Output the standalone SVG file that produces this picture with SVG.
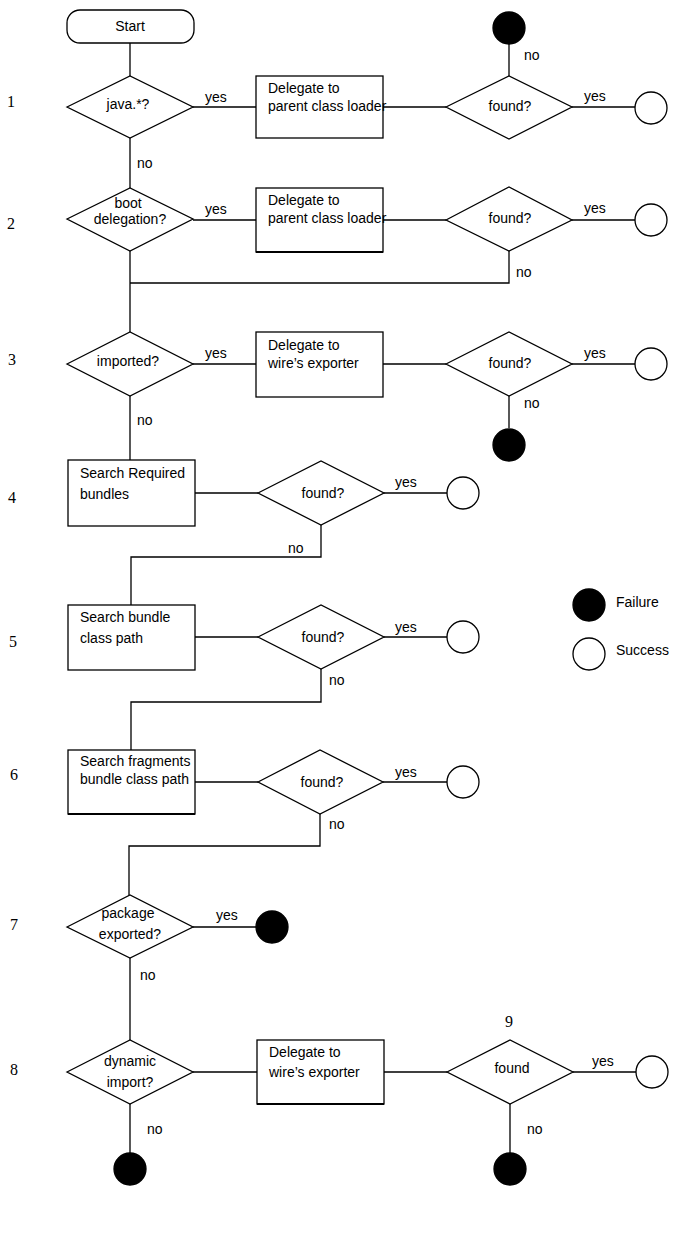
<svg xmlns="http://www.w3.org/2000/svg" width="695" height="1260" viewBox="0 0 695 1260">
<style>
.s{fill:#fff;stroke:#000;stroke-width:1.3}
.f{fill:#000;stroke:#000;stroke-width:1.3}
.c{fill:none;stroke:#000;stroke-width:1.3}
text{font-family:"Liberation Sans",Arial,sans-serif;font-size:14px;fill:#000}
.m{text-anchor:middle}
.n{font-family:"Liberation Serif","Times New Roman",serif;font-size:16px}
.t{stroke:#000;stroke-width:2.2}
</style>
<rect width="695" height="1260" fill="#fff"/>
<g id="connectors">
<path class="c" d="M130,43V76 M193,107H256 M383,107H446 M509,76V44 M572,107H635 M130,138V188"/>
<path class="c" d="M193,220H256 M383,220H446 M572,220H635 M509,251V283H130 M130,251V332"/>
<path class="c" d="M193,364H256 M383,364H446 M572,364H635 M509,396V428 M130,396V460"/>
<path class="c" d="M195,493H258 M384,493H447 M321,525V557H131V605"/>
<path class="c" d="M195,637H258 M384,637H447 M321,669V702H131V750"/>
<path class="c" d="M195,782H258 M383,782H447 M320,814V846H129V895"/>
<path class="c" d="M193,927H256 M130,958V1040"/>
<path class="c" d="M193,1072H257 M384,1072H447 M573,1072H636 M510,1104V1153 M130,1104V1153"/>
</g>
<g id="labels">
<text class="n" x="7" y="107">1</text>
<text class="n" x="7" y="229">2</text>
<text class="n" x="8" y="365">3</text>
<text class="n" x="8" y="503">4</text>
<text class="n" x="9" y="647">5</text>
<text class="n" x="10" y="780">6</text>
<text class="n" x="10" y="930">7</text>
<text class="n" x="10" y="1075">8</text>
<text class="n" x="505" y="1027">9</text>
<text x="205" y="102" font-size="13">yes</text>
<text x="584" y="101" font-size="13">yes</text>
<text x="524" y="60">no</text>
<text x="137" y="168">no</text>
<text x="205" y="214" font-size="13">yes</text>
<text x="584" y="213" font-size="13">yes</text>
<text x="516" y="277">no</text>
<text x="205" y="358" font-size="13">yes</text>
<text x="584" y="358" font-size="13">yes</text>
<text x="524" y="408">no</text>
<text x="137" y="425">no</text>
<text x="395" y="487" font-size="13">yes</text>
<text x="288" y="553">no</text>
<text x="395" y="632" font-size="13">yes</text>
<text x="329" y="685">no</text>
<text x="395" y="777" font-size="13">yes</text>
<text x="329" y="829">no</text>
<text x="216" y="920" font-size="13">yes</text>
<text x="140" y="980">no</text>
<text x="592" y="1066" font-size="13">yes</text>
<text x="147" y="1134">no</text>
<text x="527" y="1134">no</text>
</g>
<g id="start"><rect class="s" x="67" y="10" width="127" height="33" rx="13"/><text class="m" x="130" y="31">Start</text></g>
<g id="d1"><polygon class="s" points="67,107 130,76 193,107 130,138"/><text class="m" x="128" y="109">java.*?</text></g>
<g id="r1"><rect class="s" x="256" y="76" width="127" height="62"/><text x="268" y="93">Delegate to</text><text x="268" y="111">parent class loader</text></g>
<g id="f1"><polygon class="s" points="446,107 509,76 572,107 509,139"/><text class="m" x="510" y="111">found?</text></g>
<g id="fail1"><circle class="f" cx="509" cy="28" r="16"/></g>
<g id="succ1"><circle class="s" cx="651" cy="108" r="16"/></g>
<g id="d2"><polygon class="s" points="67,219 130,188 193,219 130,251"/><text class="m" x="128" y="208">boot</text><text class="m" x="130" y="224">delegation?</text></g>
<g id="r2"><rect class="s" x="256" y="188" width="127" height="64"/><line class="t" x1="256" y1="252" x2="383" y2="252"/><text x="268" y="205">Delegate to</text><text x="268" y="223">parent class loader</text></g>
<g id="f2"><polygon class="s" points="446,220 509,187 572,220 509,251"/><text class="m" x="510" y="223">found?</text></g>
<g id="succ2"><circle class="s" cx="651" cy="220" r="16"/></g>
<g id="d3"><polygon class="s" points="67,364 130,332 193,364 130,396"/><text class="m" x="128" y="366">imported?</text></g>
<g id="r3"><rect class="s" x="256" y="332" width="127" height="65"/><text x="268" y="350">Delegate to</text><text x="268" y="368">wire’s exporter</text></g>
<g id="f3"><polygon class="s" points="446,364 509,332 572,364 509,396"/><text class="m" x="510" y="368">found?</text></g>
<g id="succ3"><circle class="s" cx="651" cy="364" r="16"/></g>
<g id="fail3"><circle class="f" cx="509" cy="445" r="16"/></g>
<g id="r4"><rect class="s" x="68" y="460" width="127" height="66"/><text x="80" y="478">Search Required</text><text x="80" y="499">bundles</text></g>
<g id="f4"><polygon class="s" points="258,493 321,461 384,493 321,525"/><text class="m" x="323" y="498">found?</text></g>
<g id="succ4"><circle class="s" cx="463" cy="493" r="16"/></g>
<g id="r5"><rect class="s" x="68" y="605" width="127" height="65"/><text x="80" y="622">Search bundle</text><text x="80" y="643">class path</text></g>
<g id="f5"><polygon class="s" points="258,637 321,605 384,637 321,669"/><text class="m" x="323" y="642">found?</text></g>
<g id="succ5"><circle class="s" cx="463" cy="637" r="16"/></g>
<g id="r6"><rect class="s" x="68" y="750" width="127" height="64"/><line class="t" x1="68" y1="814" x2="195" y2="814"/><text x="80" y="766">Search fragments</text><text x="80" y="784">bundle class path</text></g>
<g id="f6"><polygon class="s" points="258,782 320,750 383,782 320,814"/><text class="m" x="322" y="787">found?</text></g>
<g id="succ6"><circle class="s" cx="463" cy="782" r="16"/></g>
<g id="d7"><polygon class="s" points="67,927 130,895 193,927 130,958"/><text class="m" x="128" y="918">package</text><text class="m" x="130" y="939">exported?</text></g>
<g id="fail7"><circle class="f" cx="272" cy="927" r="16"/></g>
<g id="d8"><polygon class="s" points="67,1072 130,1040 193,1072 130,1104"/><text class="m" x="130" y="1066">dynamic</text><text class="m" x="130" y="1087">import?</text></g>
<g id="r8"><rect class="s" x="257" y="1040" width="127" height="64"/><line class="t" x1="257" y1="1104" x2="384" y2="1104"/><text x="269" y="1057">Delegate to</text><text x="269" y="1077">wire’s exporter</text></g>
<g id="f9"><polygon class="s" points="447,1072 510,1040 573,1072 510,1104"/><text class="m" x="512" y="1073">found</text></g>
<g id="succ9"><circle class="s" cx="652" cy="1072" r="16"/></g>
<g id="fail8"><circle class="f" cx="130" cy="1169" r="16"/></g>
<g id="fail9"><circle class="f" cx="510" cy="1169" r="16"/></g>
<g id="legend">
<circle class="f" cx="589" cy="605" r="16"/><text x="616" y="607">Failure</text>
<circle class="s" cx="589" cy="654" r="16"/><text x="616" y="655">Success</text>
</g>
</svg>
